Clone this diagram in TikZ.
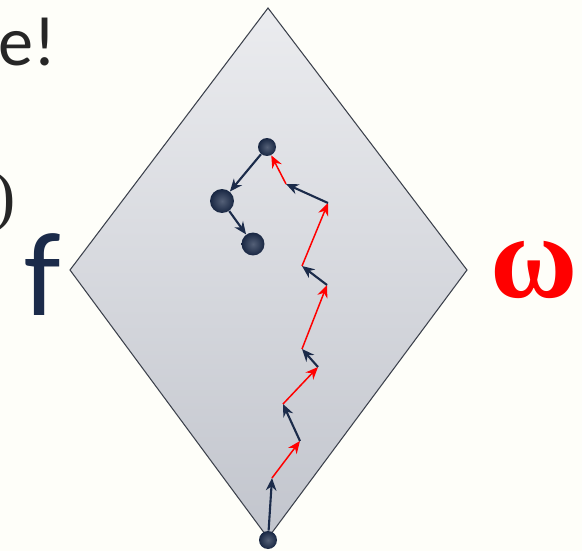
\documentclass[tikz,border=0pt]{standalone}
\usepackage{fontspec}
\setmainfont{Carlito}
\newfontfamily\omegafont{Liberation Serif}
\usetikzlibrary{arrows.meta, shapes.geometric, shadings}
\definecolor{walkNavy}{HTML}{1B2B4A}
\definecolor{walkRed}{HTML}{FF0000}
\definecolor{walkPaper}{HTML}{FEFEF9}
\definecolor{walkEdge}{HTML}{3C414C}
\definecolor{walkTop}{HTML}{EBECEF}
\definecolor{walkBottom}{HTML}{C2C5CD}

\begin{document}
\begin{tikzpicture}[
  x=0.02cm, y=-0.02cm,
  site/.style={circle, inner sep=0pt, shading=radial, inner color=walkNavy!75!white,
               outer color=walkNavy!90!black},
  dark/.style={-{Stealth[length=2.5mm, width=2.1mm]}, line width=1.2pt, draw=walkNavy},
  hop/.style={-{Stealth[length=2.5mm, width=2.1mm]}, line width=0.85pt, draw=walkRed}
]
\useasboundingbox[fill=walkPaper] (0,0) rectangle (582,551);
% rhombus
\coordinate (top) at (268,8);
\coordinate (left) at (70,270);
\coordinate (right) at (467,270);
\coordinate (bottom) at (268,538);
\draw[walkEdge, line width=0.6pt, top color=walkTop, bottom color=walkBottom]
  (top) -- (right) -- (bottom) -- (left) -- cycle;
% labels
\node[anchor=base west, inner sep=0pt, font=\fontsize{40}{40}\selectfont, text=black!85] (cry) at (-2,65) {e!};
\node[anchor=base east, inner sep=0pt, font=\omegafont\fontsize{38}{38}\selectfont, text=black!85] (paren) at (16,218) {)};
\node[anchor=base west, inner sep=0pt, font=\fontsize{68}{68}\selectfont, text=walkNavy] (f) at (24,315) {f};
\node[anchor=base west, inner sep=0pt, font=\omegafont\bfseries\fontsize{68}{68}\selectfont, text=walkRed] (omega) at (490,297) {ω};
% sites
\node[site, minimum size=0.36cm] (start) at (268,540) {};
\node[site, minimum size=0.36cm] (end) at (267,147) {};
\node[site, minimum size=0.48cm] (s1) at (222,201) {};
\node[site, minimum size=0.46cm] (s2) at (253,244) {};
% walk
\coordinate (w1) at (272,478);
\coordinate (w2) at (300,441);
\coordinate (w3) at (283,404);
\coordinate (w4) at (318,367);
\coordinate (w5) at (302,349);
\coordinate (w6) at (327,285);
\coordinate (w7) at (302,266);
\coordinate (w8) at (328,203);
\coordinate (w9) at (286,184);
\draw[dark] (start) -- (w1);
\draw[hop] (w1) -- (w2);
\draw[dark] (w2) -- (w3);
\draw[hop] (w3) -- (w4);
\draw[dark] (w4) -- (w5);
\draw[hop] (w5) -- (w6);
\draw[dark] (w6) -- (w7);
\draw[hop] (w7) -- (w8);
\draw[dark] (w8) -- (w9);
\draw[hop] (w9) -- (end);
\draw[dark] (end) -- (s1);
\draw[dark] (s1) -- (s2);
\end{tikzpicture}
\end{document}
